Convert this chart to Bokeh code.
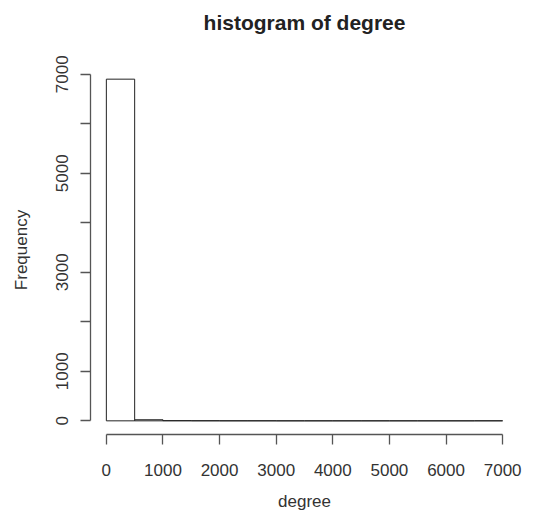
from bokeh.plotting import figure
from bokeh.models import FixedTicker, Range1d, Title
from bokeh.embed import file_html
from bokeh.resources import INLINE

# data: histogram of degree, bins of width 500
bin_edges = [0, 500, 1000, 1500, 2000, 2500, 3000, 3500, 4000, 4500,
             5000, 5500, 6000, 6500, 7000]
counts = [6900, 22, 4, 2, 1, 1, 0, 0, 0, 0, 0, 0, 0, 1]
x_ticks = [0, 1000, 2000, 3000, 4000, 5000, 6000, 7000]
y_ticks = [0, 1000, 2000, 3000, 4000, 5000, 6000, 7000]
y_tick_labels = {1000: "1000", 3000: "3000", 5000: "5000", 7000: "7000", 0: "0",
                 2000: "", 4000: "", 6000: ""}
title_text = "histogram of degree"

FONT = "Liberation Sans"

p = figure(width=525, height=513, output_backend="svg", toolbar_location=None,
           x_range=Range1d(-280, 7280), y_range=Range1d(-276, 7176),
           min_border_left=90, min_border_right=7,
           min_border_top=65, min_border_bottom=77)

p.quad(left=bin_edges[:-1], right=bin_edges[1:], bottom=0, top=counts,
       fill_color="white", line_color="#222222", line_width=1)

p.outline_line_color = None
p.xgrid.visible = False
p.ygrid.visible = False
p.background_fill_color = "white"
p.border_fill_color = "white"

# spacer between the frame and the title (closest to the frame)
p.add_layout(Title(text=" ", text_font=FONT, text_font_size="10px",
                   standoff=13.5), "above")
# the main title (outermost)
p.add_layout(Title(text=title_text, text_font=FONT, text_font_size="21px",
                   text_font_style="bold", text_color="#222222",
                   align="center", standoff=10), "above")

for ax in (p.xaxis[0], p.yaxis[0]):
    ax.bounds = (0, 7000)
    ax.axis_line_color = "#555555"
    ax.axis_line_width = 1.3
    ax.major_tick_line_color = "#555555"
    ax.major_tick_line_width = 1.3
    ax.major_tick_out = 10
    ax.major_tick_in = 0
    ax.minor_tick_out = 0
    ax.minor_tick_in = 0
    ax.major_label_text_font = FONT
    ax.major_label_text_font_size = "17px"
    ax.major_label_text_color = "#333333"
    ax.axis_label_text_font = FONT
    ax.axis_label_text_font_size = "17px"
    ax.axis_label_text_font_style = "normal"
    ax.axis_label_text_color = "#333333"

p.xaxis.ticker = FixedTicker(ticks=x_ticks)
p.xaxis.axis_label = "degree"
p.xaxis.major_label_standoff = 19
p.xaxis.axis_label_standoff = 13

p.yaxis.ticker = FixedTicker(ticks=y_ticks)
p.yaxis.major_label_overrides = y_tick_labels
p.yaxis.major_label_orientation = "vertical"
p.yaxis.axis_label = "Frequency"
p.yaxis.major_label_standoff = 12
p.yaxis.axis_label_standoff = 23

open("out.html", "w").write(file_html(p, INLINE))
